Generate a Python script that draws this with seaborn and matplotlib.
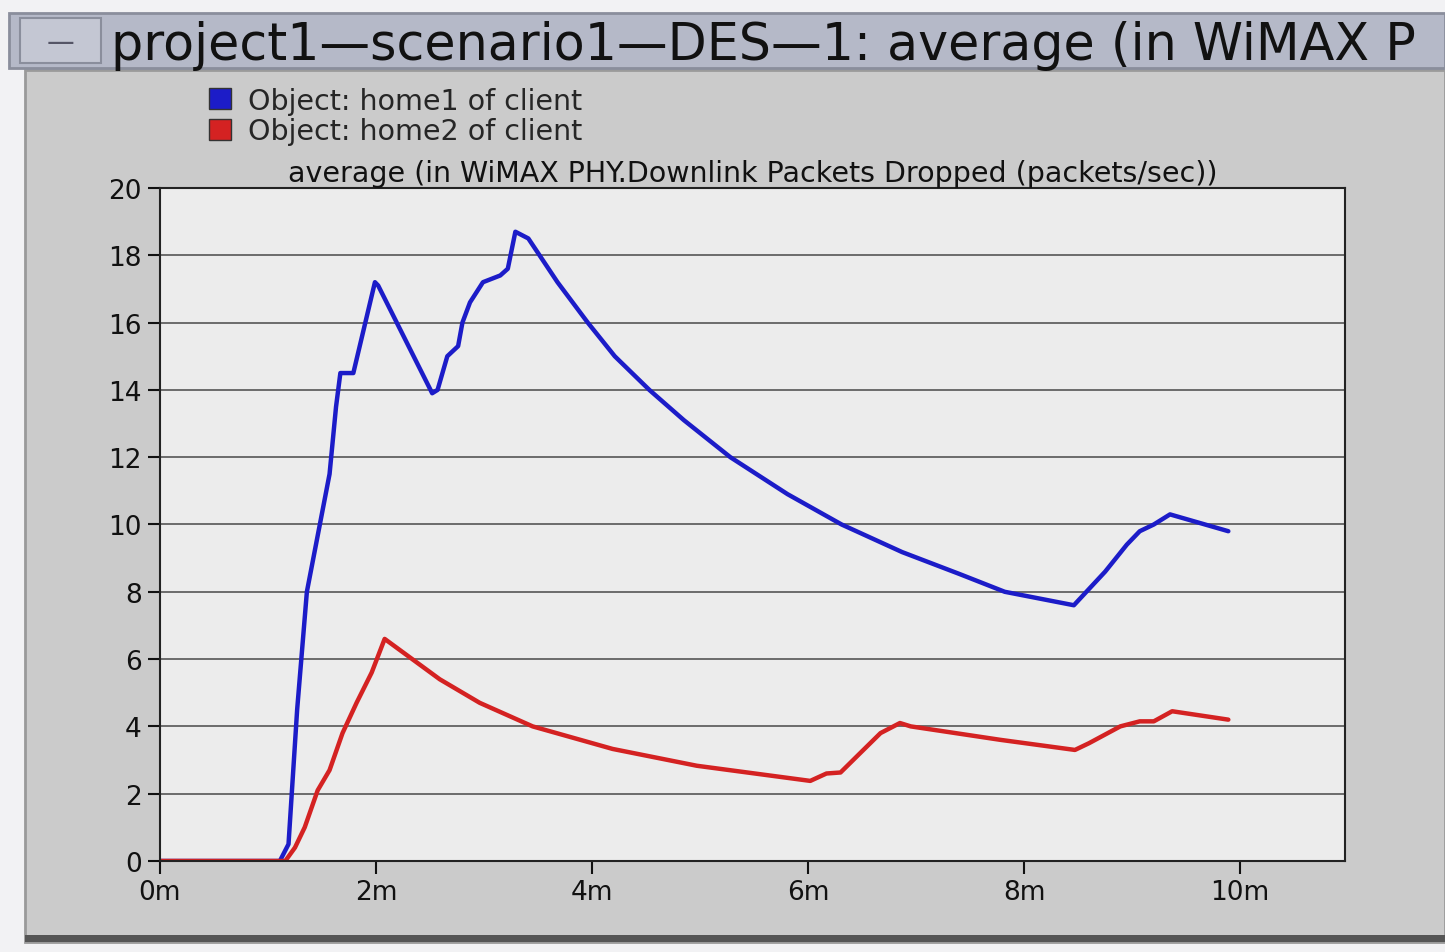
import pandas as pd
import numpy as np
import matplotlib.pyplot as plt
import seaborn as sns
from matplotlib.patches import Rectangle, Patch

# ---------------------------------------------------------
# data (time in minutes)
# ---------------------------------------------------------
t_home1 = [0, 1.11, 1.19, 1.27, 1.36, 1.48, 1.57, 1.63, 1.67, 1.79, 1.99, 2.02,
           2.52, 2.57, 2.66, 2.76, 2.80, 2.87, 2.99, 3.15, 3.22, 3.29, 3.41,
           3.68, 3.96, 4.21, 4.53, 4.85, 5.28, 5.81, 6.31, 6.87, 7.40, 7.82,
           8.46, 8.75, 8.95, 9.07, 9.20, 9.35, 9.89]
v_home1 = [0, 0, 0.5, 4.5, 8.0, 10.0, 11.5, 13.5, 14.5, 14.5, 17.2, 17.1,
           13.9, 14.0, 15.0, 15.3, 16.0, 16.6, 17.2, 17.4, 17.6, 18.7, 18.5,
           17.2, 16.0, 15.0, 14.0, 13.1, 12.0, 10.9, 10.0, 9.18, 8.53, 8.0,
           7.6, 8.6, 9.4, 9.8, 10.0, 10.3, 9.8]

t_home2 = [0, 1.16, 1.25, 1.34, 1.46, 1.57, 1.69, 1.82, 1.96, 2.08, 2.25, 2.59,
           2.96, 3.45, 4.19, 4.97, 5.74, 6.02, 6.17, 6.30, 6.48, 6.67, 6.85, 6.95,
           7.78, 8.47, 8.6, 8.89, 9.07, 9.2, 9.37, 9.89]
v_home2 = [0, 0, 0.4, 1.0, 2.1, 2.7, 3.8, 4.7, 5.6, 6.6, 6.2, 5.4,
           4.7, 4.0, 3.33, 2.83, 2.5, 2.38, 2.6, 2.63, 3.2, 3.8, 4.1, 4.0,
           3.6, 3.3, 3.5, 4.0, 4.15, 4.15, 4.45, 4.2]

series_names = ["Object: home1 of client", "Object: home2 of client"]
series_colors = ["#1c1cc8", "#d42222"]
x_ticks = [0, 2, 4, 6, 8, 10]
x_labels = ["0m", "2m", "4m", "6m", "8m", "10m"]
y_ticks = list(range(0, 21, 2))

# the window title is cut off at the right edge in the screenshot
window_title = "project1\u2014scenario1\u2014DES\u20141: average (in WiMAX P"
plot_title = "average (in WiMAX PHY.Downlink Packets Dropped (packets/sec))"

df = pd.concat([
    pd.DataFrame({"t": t_home1, "v": v_home1, "obj": series_names[0]}),
    pd.DataFrame({"t": t_home2, "v": v_home2, "obj": series_names[1]}),
])

sns.set_style("white")
plt.rcParams['font.family'] = ['DejaVu Sans']

fig = plt.figure(figsize=(14.45, 9.53), dpi=100)
fig.patch.set_facecolor("#f2f2f4")

# window frame: panel + title bar
fig.add_artist(Rectangle((0.017, 0.010), 0.983, 0.915, transform=fig.transFigure,
                         facecolor="#cbcbcb", edgecolor="#9a9a9a", lw=2, zorder=0))
fig.add_artist(Rectangle((0.017, 0.010), 0.983, 0.008, transform=fig.transFigure,
                         facecolor="#555555", edgecolor="none", zorder=0))
fig.add_artist(Rectangle((0.006, 0.928), 0.994, 0.057, transform=fig.transFigure,
                         facecolor="#b5b9c8", edgecolor="#8a8e9c", lw=2, zorder=0))
fig.add_artist(Rectangle((0.014, 0.933), 0.056, 0.047, transform=fig.transFigure,
                         facecolor="#c4c7d3", edgecolor="#8a8e9c", lw=1.5, zorder=0))
fig.text(0.042, 0.955, "\u2014", fontsize=20, color="#555566", ha="center", va="center")
fig.text(0.077, 0.952, window_title, fontsize=36.5, ha="left", va="center", color="#111111")

ax = fig.add_axes([0.1107, 0.0955, 0.8201, 0.7062])
ax.set_facecolor("#ececec")

sns.lineplot(data=df, x="t", y="v", hue="obj", palette=series_colors,
             linewidth=3.2, legend=False, ax=ax, sort=False, estimator=None)

ax.set_xlim(0, 10.97)
ax.set_ylim(0, 20)
ax.set_xticks(x_ticks)
ax.set_xticklabels(x_labels)
ax.set_yticks(y_ticks)
ax.tick_params(axis="both", direction="out", length=9, width=1.5, labelsize=19,
               colors="#111111", bottom=True, left=True, pad=4)
ax.grid(axis="y", color="#555555", lw=1.2)
ax.set_axisbelow(True)
for s in ax.spines.values():
    s.set_color("#222222")
    s.set_linewidth(1.5)
ax.set_xlabel("")
ax.set_ylabel("")
ax.set_title(plot_title, fontsize=20.5, pad=5, color="#111111")

handles = [Patch(facecolor=c, edgecolor="#333333") for c in series_colors]
fig.legend(handles, series_names, loc="upper left", bbox_to_anchor=(0.137, 0.92),
           frameon=False, fontsize=20.5, handlelength=0.75, handleheight=0.75,
           handletextpad=0.6, labelspacing=0.1, borderaxespad=0)

fig.savefig("out.png", dpi=100, facecolor=fig.get_facecolor())
